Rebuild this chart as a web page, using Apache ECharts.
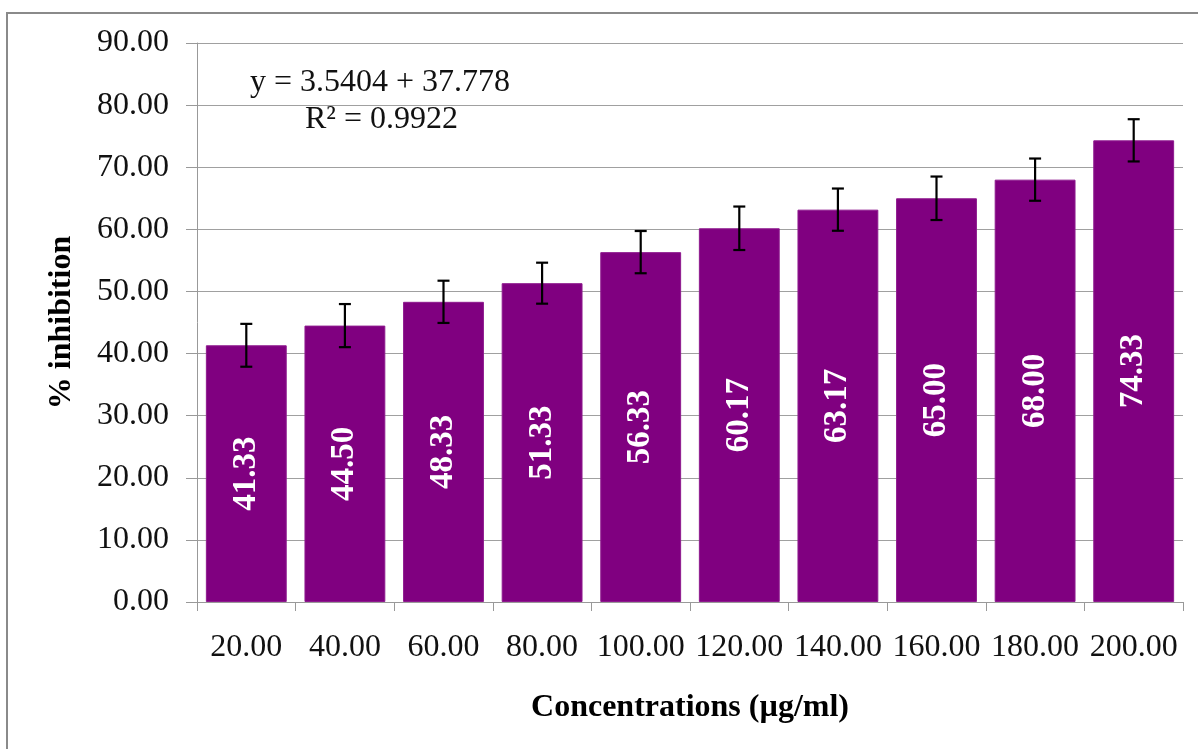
<!DOCTYPE html>
<html>
<head>
<meta charset="utf-8">
<script src="https://cdn.jsdelivr.net/npm/echarts@6/dist/echarts.min.js"></script>
<style>
html,body{margin:0;padding:0;background:#fff;}
#c{width:1198px;height:749px;}
</style>
</head>
<body>
<div id="c"></div>
<script>
const categories = ['20.00','40.00','60.00','80.00','100.00','120.00','140.00','160.00','180.00','200.00'];
const inhibition = [41.33, 44.50, 48.33, 51.33, 56.33, 60.17, 63.17, 65.00, 68.00, 74.33];
const errors = [3.45, 3.47, 3.4, 3.3, 3.4, 3.5, 3.4, 3.5, 3.4, 3.4];
const equationLines = ['y = 3.5404 + 37.778', 'R\u00B2 = 0.9922'];

const FONT = '"Liberation Serif", "Times New Roman", serif';
const chart = echarts.init(document.getElementById('c'), null, {renderer: 'canvas'});

const errData = inhibition.map((v, i) => [i, v - errors[i], v + errors[i]]);

chart.setOption({
  backgroundColor: '#fff',
  animation: false,
  grid: {left: 197, right: 15, top: 43, bottom: 147, containLabel: false},
  xAxis: {
    type: 'category',
    data: categories,
    name: 'Concentrations (\u00B5g/ml)',
    nameLocation: 'middle',
    nameGap: 90,
    nameTextStyle: {fontFamily: FONT, fontSize: 32, fontWeight: 'bold', color: '#000'},
    axisLine: {lineStyle: {color: '#999', width: 1}},
    axisTick: {show: true, length: 9, lineStyle: {color: '#999'}},
    axisLabel: {fontFamily: FONT, fontSize: 32, color: '#111', margin: 30, interval: 0, hideOverlap: false},
    splitLine: {show: false}
  },
  yAxis: {
    type: 'value',
    min: 0, max: 90, interval: 10,
    name: '% inhibition',
    nameLocation: 'middle',
    nameGap: 119,
    nameTextStyle: {fontFamily: FONT, fontSize: 32, fontWeight: 'bold', color: '#000'},
    axisLine: {show: true, lineStyle: {color: '#999', width: 1}},
    axisTick: {show: true, length: 11, lineStyle: {color: '#999'}},
    axisLabel: {fontFamily: FONT, fontSize: 32, color: '#111', margin: 28,
      formatter: v => v.toFixed(2)},
    splitLine: {show: true, lineStyle: {color: '#a0a0a0', width: 1}}
  },
  series: [
    {
      type: 'bar',
      data: inhibition,
      barCategoryGap: '18%',
      itemStyle: {color: '#800080', borderColor: '#8e1a8e', borderWidth: 1},
      label: {
        show: true, position: 'inside', rotate: 90,
        fontFamily: FONT, fontSize: 33, fontWeight: 'bold', color: '#fff',
        formatter: p => p.value.toFixed(2)
      },
      z: 2
    },
    {
      type: 'custom',
      data: errData,
      z: 5,
      renderItem: function (params, api) {
        const x = api.value(0);
        const lo = api.coord([x, api.value(1)]);
        const hi = api.coord([x, api.value(2)]);
        const hw = 6;
        const st = {stroke: '#000', lineWidth: 2.2};
        return {
          type: 'group',
          children: [
            {type: 'line', shape: {x1: lo[0], y1: lo[1], x2: hi[0], y2: hi[1]}, style: st},
            {type: 'line', shape: {x1: hi[0]-hw, y1: hi[1], x2: hi[0]+hw, y2: hi[1]}, style: st},
            {type: 'line', shape: {x1: lo[0]-hw, y1: lo[1], x2: lo[0]+hw, y2: lo[1]}, style: st}
          ]
        };
      }
    }
  ],
  graphic: [
    {type: 'rect', shape: {x: 7, y: 13, width: 1400, height: 1000},
     style: {fill: null, stroke: '#8a8a8a', lineWidth: 2}, z: 100, silent: true},
    {type: 'text', left: 250, top: 67,
     style: {text: equationLines[0], font: '32px ' + FONT, fill: '#111'}, z: 100},
    {type: 'text', left: 305, top: 104,
     style: {text: equationLines[1], font: '32px ' + FONT, fill: '#111'}, z: 100}
  ]
});
</script>
</body>
</html>
